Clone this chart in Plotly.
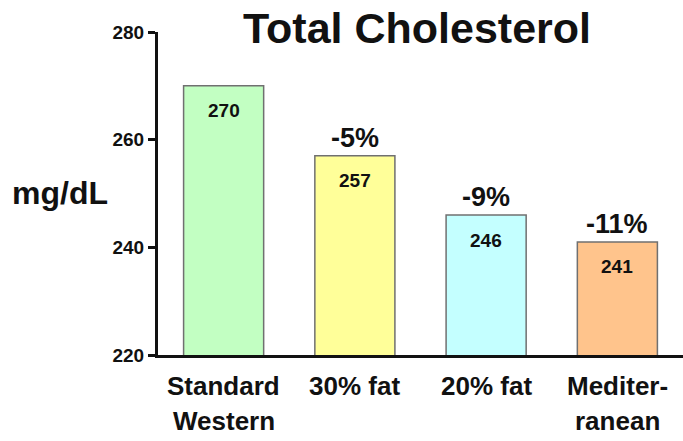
import plotly.graph_objects as go

# Diet groups and mean total cholesterol (mg/dL)
categories = [["Standard", "Western"], ["30% fat"], ["20% fat"], ["Mediter-", "ranean"]]
values = [270, 257, 246, 241]
changes = ["", "-5%", "-9%", "-11%"]
bar_colors = ["#c2ffc2", "#ffff99", "#c4ffff", "#ffc48c"]

y_ticks = [220, 240, 260, 280]

FONT = "Liberation Sans, Arial, sans-serif"
INK = "#111111"

fig = go.Figure()
fig.add_trace(go.Bar(
    x=list(range(len(values))),
    y=values,
    base=0,
    marker=dict(color=bar_colors, line=dict(color="#707070", width=1.5)),
    width=0.61,
    hoverinfo="skip",
))

annotations = []
for i, (v, c) in enumerate(zip(values, changes)):
    # value printed just under the top of each bar
    annotations.append(dict(
        x=i, y=v, xref="x", yref="y", text=f"<b>{v}</b>", showarrow=False,
        yanchor="middle", yshift=-25,
        font=dict(family=FONT, size=19, color=INK),
    ))
    # percent change relative to the Standard Western diet
    if c:
        annotations.append(dict(
            x=i, y=v, xref="x", yref="y", text=f"<b>{c}</b>", showarrow=False,
            yanchor="middle", yshift=18,
            font=dict(family=FONT, size=27, color=INK),
        ))

# category labels under the axis, one annotation per line
for i, lines in enumerate(categories):
    for j, line in enumerate(lines):
        annotations.append(dict(
            x=i, y=0, xref="x", yref="paper", text=f"<b>{line}</b>", showarrow=False,
            yanchor="middle", yshift=-31 - 35 * j,
            font=dict(family=FONT, size=26, color=INK),
        ))

# y-axis unit label, written horizontally to the left of the axis
plot_w = 683 - 158
plot_h = 441 - 32 - 86
annotations.append(dict(
    x=(60 - 158) / plot_w, y=(441 - 86 - 193) / plot_h, xref="paper", yref="paper",
    text="<b>mg/dL</b>", showarrow=False, xanchor="center", yanchor="middle",
    font=dict(family=FONT, size=32, color=INK),
))

fig.update_layout(
    width=683, height=441,
    margin=dict(l=158, r=0, t=32, b=86),
    paper_bgcolor="white", plot_bgcolor="white",
    showlegend=False,
    title=dict(
        text="<b>Total Cholesterol</b>",
        x=417 / 683, xanchor="center", y=1 - 28 / 441, yanchor="middle",
        font=dict(family=FONT, size=43, color=INK),
    ),
    xaxis=dict(
        tickvals=list(range(len(values))), showticklabels=False,
        range=[-0.5, 3.5], showline=True, linecolor=INK, linewidth=3,
        ticks="", showgrid=False, zeroline=False,
    ),
    yaxis=dict(
        range=[220, 280], tickmode="array", tickvals=y_ticks,
        ticktext=[f"<b>{t}</b>" for t in y_ticks],
        showline=True, linecolor=INK, linewidth=3,
        ticks="outside", ticklen=7, tickwidth=3, tickcolor=INK,
        showgrid=False, zeroline=False,
        tickfont=dict(family=FONT, size=19, color=INK),
    ),
    annotations=annotations,
)

fig.write_html("out.html")
